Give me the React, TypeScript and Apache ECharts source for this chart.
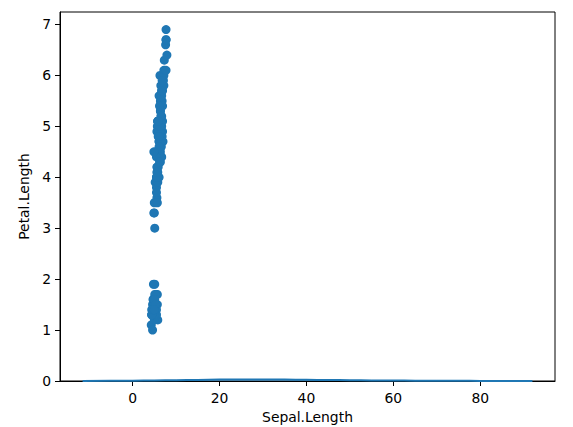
import React, { useEffect, useRef } from "react";
import * as echarts from "echarts";

const sepalLength = [
  5.1, 4.9, 4.7, 4.6, 5.0, 5.4, 4.6, 5.0, 4.4, 4.9, 5.4, 4.8, 4.8, 4.3, 5.8, 5.7, 5.4, 5.1, 5.7, 5.1,
  5.4, 5.1, 4.6, 5.1, 4.8, 5.0, 5.0, 5.2, 5.2, 4.7, 4.8, 5.4, 5.2, 5.5, 4.9, 5.0, 5.5, 4.9, 4.4, 5.1,
  5.0, 4.5, 4.4, 5.0, 5.1, 4.8, 5.1, 4.6, 5.3, 5.0,
  7.0, 6.4, 6.9, 5.5, 6.5, 5.7, 6.3, 4.9, 6.6, 5.2, 5.0, 5.9, 6.0, 6.1, 5.6, 6.7, 5.6, 5.8, 6.2, 5.6,
  5.9, 6.1, 6.3, 6.1, 6.4, 6.6, 6.8, 6.7, 6.0, 5.7, 5.5, 5.5, 5.8, 6.0, 5.4, 6.0, 6.7, 6.3, 5.6, 5.5,
  5.5, 6.1, 5.8, 5.0, 5.6, 5.7, 5.7, 6.2, 5.1, 5.7,
  6.3, 5.8, 7.1, 6.3, 6.5, 7.6, 4.9, 7.3, 6.7, 7.2, 6.5, 6.4, 6.8, 5.7, 5.8, 6.4, 6.5, 7.7, 7.7, 6.0,
  6.9, 5.6, 7.7, 6.3, 6.7, 7.2, 6.2, 6.1, 6.4, 7.2, 7.4, 7.9, 6.4, 6.3, 6.1, 7.7, 6.3, 6.4, 6.0, 6.9,
  6.7, 6.9, 5.8, 6.8, 6.7, 6.7, 6.3, 6.5, 6.2, 5.9,
];

const petalLength = [
  1.4, 1.4, 1.3, 1.5, 1.4, 1.7, 1.4, 1.5, 1.4, 1.5, 1.5, 1.6, 1.4, 1.1, 1.2, 1.5, 1.3, 1.4, 1.7, 1.5,
  1.7, 1.5, 1.0, 1.7, 1.9, 1.6, 1.6, 1.5, 1.4, 1.6, 1.6, 1.5, 1.5, 1.4, 1.5, 1.2, 1.3, 1.4, 1.3, 1.5,
  1.3, 1.3, 1.3, 1.6, 1.9, 1.4, 1.6, 1.4, 1.5, 1.4,
  4.7, 4.5, 4.9, 4.0, 4.6, 4.5, 4.7, 3.3, 4.6, 3.9, 3.5, 4.2, 4.0, 4.7, 3.6, 4.4, 4.5, 4.1, 4.5, 3.9,
  4.8, 4.0, 4.9, 4.7, 4.3, 4.4, 4.8, 5.0, 4.5, 3.5, 3.8, 3.7, 3.9, 5.1, 4.5, 4.5, 4.7, 4.4, 4.1, 4.0,
  4.4, 4.6, 4.0, 3.3, 4.2, 4.2, 4.2, 4.3, 3.0, 4.1,
  6.0, 5.1, 5.9, 5.6, 5.8, 6.6, 4.5, 6.3, 5.8, 6.1, 5.1, 5.3, 5.5, 5.0, 5.1, 5.3, 5.5, 6.7, 6.9, 5.0,
  5.7, 4.9, 6.7, 4.9, 5.7, 6.0, 4.8, 4.9, 5.6, 5.8, 6.1, 6.4, 5.6, 5.1, 5.6, 6.1, 5.6, 5.5, 4.8, 5.4,
  5.6, 5.1, 5.1, 5.9, 5.7, 5.2, 5.0, 5.2, 5.4, 5.1,
];

const curveX = [-11.5, -5, 0, 5, 10, 15, 20, 25, 30, 35, 40, 45, 50, 55, 60, 65, 70, 75, 80, 85, 92];
const curveY = [0.001, 0.003, 0.006, 0.01, 0.015, 0.021, 0.027, 0.031, 0.031, 0.028, 0.024, 0.02, 0.016, 0.012, 0.009, 0.006, 0.004, 0.003, 0.002, 0.001, 0.0005];

const xTicks = [0, 20, 40, 60, 80];
const yTicks = [0, 1, 2, 3, 4, 5, 6, 7];

export default function App() {
  const ref = useRef<HTMLDivElement>(null);
  useEffect(() => {
    if (!ref.current) return;
    const chart = echarts.init(ref.current, null, { renderer: "svg" });
    const font = "DejaVu Sans";
    chart.setOption({
      animation: false,
      backgroundColor: "#ffffff",
      grid: {
        left: 60,
        right: 18,
        top: 12,
        bottom: 46,
        outerBoundsMode: "none",
        containLabel: false,
        show: true,
        borderColor: "#000",
        borderWidth: 1,
        backgroundColor: "transparent",
      },
      xAxis: {
        type: "value",
        min: -16.7,
        max: 97.2,
        name: "Sepal.Length",
        nameLocation: "middle",
        nameGap: 28,
        nameTextStyle: { fontFamily: font, fontSize: 13.9, color: "#000" },
        axisLine: { show: true, onZero: false, lineStyle: { color: "#000", width: 1 } },
        axisTick: { show: true, length: 5, lineStyle: { color: "#000" }, customValues: xTicks },
        axisLabel: { fontFamily: font, fontSize: 13.9, color: "#000", margin: 10, customValues: xTicks },
        splitLine: { show: false },
      },
      yAxis: {
        type: "value",
        min: 0,
        max: 7.245,
        name: "Petal.Length",
        nameLocation: "middle",
        nameGap: 26,
        nameTextStyle: { fontFamily: font, fontSize: 13.9, color: "#000" },
        axisLine: { show: true, onZero: false, lineStyle: { color: "#000", width: 1 } },
        axisTick: { show: true, length: 5, lineStyle: { color: "#000" }, customValues: yTicks },
        axisLabel: { fontFamily: font, fontSize: 13.9, color: "#000", margin: 9, customValues: yTicks },
        splitLine: { show: false },
      },
      series: [
        {
          type: "scatter",
          data: sepalLength.map((x, i) => [x, petalLength[i]]),
          symbolSize: 9,
          itemStyle: { color: "#1f77b4", opacity: 1 },
        },
        {
          type: "line",
          data: curveX.map((x, i) => [x, curveY[i]]),
          smooth: true,
          showSymbol: false,
          lineStyle: { color: "#1f77b4", width: 2 },
          areaStyle: { color: "#1f77b4", opacity: 0.3 },
        },
      ],
    });
    return () => chart.dispose();
  }, []);
  return (
    <div
      ref={ref}
      style={{ position: "fixed", left: 0, top: 0, width: 573, height: 427 }}
    />
  );
}
